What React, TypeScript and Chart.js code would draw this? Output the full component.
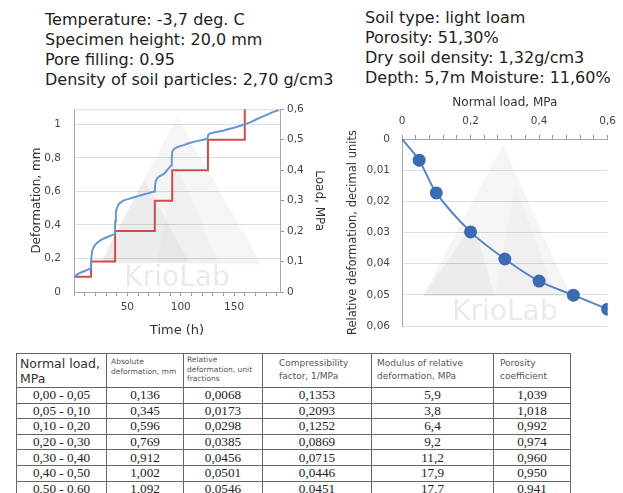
import React, { useEffect, useRef } from 'react';
import { Chart, registerables } from 'chart.js';

Chart.register(...registerables);

// ---------- Data: consolidation test (left chart) ----------
const timeH = [
  0, 3, 6, 10, 14, 15.8, 16.2, 17, 19, 21, 25, 30, 35, 38.3, 38.6, 39.2, 40.5, 42, 46, 52, 58, 65, 70, 75,
  75.8, 76.5, 78, 80, 83, 85, 87, 89, 91, 91.6, 92.2, 94, 97, 102, 108, 115, 120, 125, 125.6, 127, 132,
  139.5, 145, 150, 158, 165, 170.7, 176, 181, 186.3, 192,
];
const deformationMm = [
  0.088, 0.105, 0.115, 0.125, 0.136, 0.14, 0.2, 0.245, 0.275, 0.29, 0.31, 0.325, 0.338, 0.347, 0.42, 0.48,
  0.505, 0.525, 0.545, 0.557, 0.568, 0.582, 0.59, 0.6, 0.62, 0.66, 0.68, 0.69, 0.7, 0.71, 0.725, 0.74, 0.755,
  0.8, 0.84, 0.855, 0.865, 0.875, 0.889, 0.9, 0.907, 0.914, 0.935, 0.945, 0.953, 0.962, 0.972, 0.98, 0.996,
  1.012, 1.029, 1.045, 1.058, 1.073, 1.086,
];
const loadStepTimeH = [0, 16, 38.5, 75.7, 92, 125.5, 160];
const loadStepMPa = [0.05, 0.1, 0.2, 0.3, 0.4, 0.5, 0.6];

// ---------- Data: compression curve (right chart) ----------
const normalLoadMPa = [0, 0.05, 0.1, 0.2, 0.3, 0.4, 0.5, 0.6];
const relativeDeformation = [0, 0.0068, 0.0173, 0.0298, 0.0385, 0.0456, 0.0501, 0.0546];

// ---------- Header texts ----------
const leftInfo = [
  'Temperature: -3,7 deg. C',
  'Specimen height: 20,0 mm',
  'Pore filling: 0.95',
  'Density of soil particles: 2,70 g/cm3',
];
const rightInfo = [
  'Soil type: light loam',
  'Porosity: 51,30%',
  'Dry soil density: 1,32g/cm3',
  'Depth: 5,7m Moisture: 11,60%',
];

// ---------- Table ----------
const loadRanges = ['0,00 - 0,05', '0,05 - 0,10', '0,10 - 0,20', '0,20 - 0,30', '0,30 - 0,40', '0,40 - 0,50', '0,50 - 0,60'];
const absoluteDeformation = ['0,136', '0,345', '0,596', '0,769', '0,912', '1,002', '1,092'];
const relativeDeformationText = ['0,0068', '0,0173', '0,0298', '0,0385', '0,0456', '0,0501', '0,0546'];
const compressibilityFactor = ['0,1353', '0,2093', '0,1252', '0,0869', '0,0715', '0,0446', '0,0451'];
const modulusOfDeformation = ['5,9', '3,8', '6,4', '9,2', '11,2', '17,9', '17,7'];
const porosityCoefficient = ['1,039', '1,018', '0,992', '0,974', '0,960', '0,950', '0,941'];

const FONT = "'DejaVu Sans', Verdana, sans-serif";
Chart.defaults.font.family = FONT;
Chart.defaults.color = '#444';

const fmt = (v: number) => {
  const r = Math.round(v * 1000) / 1000;
  return r === 0 ? '0' : String(r).replace('.', ',');
};

const watermark = {
  id: 'krioWatermark',
  beforeDatasetsDraw(chart: any, _args: any, opts: any) {
    const { ctx, chartArea: a } = chart;
    const w = a.right - a.left;
    const h = a.bottom - a.top;
    const P = (fx: number, fy: number) => [a.left + fx * w, a.top + fy * h];
    ctx.save();
    const tri = (pts: number[][], color: string) => {
      ctx.beginPath();
      pts.forEach(([fx, fy], i) => {
        const [x, y] = P(fx, fy);
        if (i === 0) ctx.moveTo(x, y);
        else ctx.lineTo(x, y);
      });
      ctx.closePath();
      ctx.fillStyle = color;
      ctx.fill();
    };
    for (const t of opts.tris) tri(t.pts, t.color);
    ctx.font = `${opts.size}px ${FONT}`;
    ctx.fillStyle = 'rgba(0,0,0,0.085)';
    ctx.textAlign = 'center';
    ctx.textBaseline = 'middle';
    const [tx, ty] = P(opts.tx, opts.ty);
    ctx.fillText('KrioLab', tx, ty);
    if (opts.topLine) {
      ctx.strokeStyle = '#d8d8d8';
      ctx.lineWidth = 1;
      ctx.beginPath();
      ctx.moveTo(a.left, a.top + 0.5);
      ctx.lineTo(a.right, a.top + 0.5);
      ctx.stroke();
    }
    ctx.restore();
  },
};

function LeftChart() {
  const ref = useRef<HTMLCanvasElement>(null);
  useEffect(() => {
    const chart = new Chart(ref.current!, {
      type: 'line',
      data: {
        datasets: [
          {
            label: 'Deformation',
            data: timeH.map((t, i) => ({ x: t, y: deformationMm[i] })),
            borderColor: '#6696d0',
            borderWidth: 2,
            pointRadius: 0,
            tension: 0,
            yAxisID: 'y',
          },
          {
            label: 'Load',
            data: loadStepTimeH.map((t, i) => ({ x: t, y: loadStepMPa[i] })),
            borderColor: '#d24b4b',
            borderWidth: 2,
            pointRadius: 0,
            stepped: 'before',
            yAxisID: 'yLoad',
          },
        ],
      },
      options: {
        animation: false,
        responsive: false,
        devicePixelRatio: 1,
        layout: { padding: { left: 26, right: 10, top: 13, bottom: 8 } },
        plugins: {
          legend: { display: false },
          tooltip: { enabled: false },
          krioWatermark: {
            tris: [
              { pts: [[0.5, 0.04], [0.13, 0.84], [0.91, 0.85]], color: 'rgba(0,0,0,0.04)' },
              { pts: [[0.34, 0.38], [0.13, 0.84], [0.56, 0.84]], color: 'rgba(0,0,0,0.04)' },
              { pts: [[0.5, 0.3], [0.4, 0.84], [0.7, 0.84]], color: 'rgba(0,0,0,0.025)' },
            ],
            size: 28,
            tx: 0.5,
            ty: 0.93,
            topLine: true,
          },
        } as any,
        scales: {
          x: {
            type: 'linear',
            min: 0,
            max: 193,
            afterFit: (s: any) => { s.height = 50; },
            ticks: {
              stepSize: 10,
              autoSkip: false,
              maxRotation: 0,
              includeBounds: false,
              padding: 5,
              font: { size: 10.5 },
              callback: (v: any) => (v > 0 && v % 50 === 0 ? String(v) : ''),
            },
            grid: { drawOnChartArea: false, tickLength: 4, color: '#999' },
            border: { color: '#aaa' },
            title: { display: true, text: 'Time (h)', font: { size: 13 }, color: '#333', padding: 4 },
          },
          y: {
            type: 'linear',
            position: 'left',
            min: 0,
            max: 1.09,
            afterFit: (s: any) => { s.width = 48; },
            ticks: {
              stepSize: 0.2,
              includeBounds: false,
              padding: 13,
              font: { size: 10.5 },
              callback: (v: any) => fmt(v),
            },
            grid: { color: '#dedede', drawTicks: false },
            border: { color: '#aaa' },
            title: { display: true, text: 'Deformation, mm', font: { size: 12 }, color: '#333', padding: 4 },
          },
          yLoad: {
            type: 'linear',
            position: 'right',
            min: 0,
            max: 0.6,
            afterFit: (s: any) => { s.width = 50; },
            ticks: {
              stepSize: 0.1,
              padding: 3,
              font: { size: 10.5 },
              callback: (v: any) => fmt(v),
            },
            grid: { drawOnChartArea: false, tickLength: 4, color: '#999' },
            border: { color: '#aaa' },
            title: { display: true, text: 'Load, MPa', font: { size: 12 }, color: '#333', padding: 4 },
          },
        },
      },
      plugins: [watermark],
    } as any);
    return () => chart.destroy();
  }, []);
  return (
    <canvas
      ref={ref}
      width={340}
      height={260}
      style={{ position: 'absolute', left: 0, top: 90, width: 340, height: 260 }}
    />
  );
}

function RightChart() {
  const ref = useRef<HTMLCanvasElement>(null);
  useEffect(() => {
    const chart = new Chart(ref.current!, {
      type: 'line',
      data: {
        datasets: [
          {
            label: 'Relative deformation',
            data: normalLoadMPa.map((x, i) => ({ x, y: relativeDeformation[i] })),
            borderColor: '#5585c4',
            borderWidth: 2,
            tension: 0.3,
            pointRadius: [0, 5.5, 5.5, 5.5, 5.5, 5.5, 5.5, 5.5],
            pointBackgroundColor: '#3b6bb0',
            pointBorderColor: '#3b6bb0',
          },
        ],
      },
      options: {
        animation: false,
        responsive: false,
        devicePixelRatio: 1,
        layout: { padding: { left: 4, right: 10, top: 2, bottom: 24 } },
        plugins: {
          legend: { display: false },
          tooltip: { enabled: false },
          krioWatermark: {
            tris: [
              { pts: [[0.49, 0.03], [0.1, 0.84], [0.82, 0.84]], color: 'rgba(0,0,0,0.04)' },
              { pts: [[0.35, 0.45], [0.1, 0.84], [0.45, 0.84]], color: 'rgba(0,0,0,0.04)' },
              { pts: [[0.55, 0.25], [0.45, 0.84], [0.75, 0.84]], color: 'rgba(0,0,0,0.025)' },
            ],
            size: 28,
            tx: 0.5,
            ty: 0.93,
            topLine: false,
          },
        } as any,
        scales: {
          x: {
            type: 'linear',
            position: 'top',
            min: 0,
            max: 0.6,
            afterFit: (s: any) => { s.height = 47; },
            ticks: {
              stepSize: 0.04,
              autoSkip: false,
              maxRotation: 0,
              padding: 7,
              font: { size: 10.5 },
              callback: (v: any) => (Math.round(v * 100) % 20 === 0 ? fmt(v) : ''),
            },
            grid: { drawOnChartArea: false, tickLength: 4, color: '#999' },
            border: { color: '#aaa' },
            title: { display: true, text: 'Normal load, MPa', font: { size: 12 }, color: '#333', padding: 4 },
          },
          y: {
            type: 'linear',
            reverse: true,
            min: 0,
            max: 0.06,
            afterFit: (s: any) => { s.width = 58; },
            ticks: {
              stepSize: 0.01,
              padding: 12,
              font: { size: 10.5 },
              callback: (v: any) => fmt(v),
            },
            grid: { color: '#dedede', drawTicks: false },
            border: { color: '#aaa' },
            title: {
              display: true,
              text: 'Relative deformation, decimal units',
              font: { size: 11.5 },
              color: '#333',
              padding: 2,
            },
          },
        },
      },
      plugins: [watermark],
    } as any);
    return () => chart.destroy();
  }, []);
  return (
    <canvas
      ref={ref}
      width={283}
      height={260}
      style={{ position: 'absolute', left: 340, top: 90, width: 283, height: 260 }}
    />
  );
}

const border = '1px solid #666';
const colWidths = [90, 77, 79, 109, 122, 77];

function DataTable() {
  const smallHead = (lines: string[], size: number, lh: number, pt: number, pl: number) => (
    <td
      style={{
        border,
        verticalAlign: 'top',
        padding: 0,
        paddingTop: pt,
        paddingLeft: pl,
        fontFamily: FONT,
        fontSize: size,
        lineHeight: `${lh}px`,
        color: '#555',
        overflow: 'hidden',
        whiteSpace: 'nowrap',
      }}
    >
      {lines.map((l, i) => (
        <div key={i}>{l}</div>
      ))}
    </td>
  );
  const columns = [loadRanges, absoluteDeformation, relativeDeformationText, compressibilityFactor, modulusOfDeformation, porosityCoefficient];
  return (
    <table
      style={{
        position: 'absolute',
        left: 16,
        top: 353,
        borderCollapse: 'collapse',
        tableLayout: 'fixed',
        width: colWidths.reduce((a, b) => a + b, 0),
      }}
    >
      <colgroup>
        {colWidths.map((w, i) => (
          <col key={i} style={{ width: w }} />
        ))}
      </colgroup>
      <tbody>
        <tr style={{ height: 33 }}>
          <td
            style={{
              border,
              verticalAlign: 'top',
              padding: 0,
              paddingTop: 2,
              paddingLeft: 3,
              fontFamily: FONT,
              fontSize: 12.5,
              lineHeight: '15px',
              color: '#333',
              overflow: 'hidden',
              height: 31,
            }}
          >
            <div>Normal load,</div>
            <div>MPa</div>
          </td>
          {smallHead(['Absolute', 'deformation, mm'], 7.5, 10, 3, 4)}
          {smallHead(['Relative', 'deformation, unit', 'fractions'], 7.5, 9.6, 1, 3)}
          {smallHead(['Compressibility', 'factor, 1/MPa'], 9, 13.3, 3, 16)}
          {smallHead(['Modulus of relative', 'deformation, MPa'], 9, 13.3, 3, 5)}
          {smallHead(['Porosity', 'coefficient'], 9, 13.3, 3, 6)}
        </tr>
        {loadRanges.map((_, r) => (
          <tr key={r} style={{ height: 15.6 }}>
            {columns.map((col, c) => (
              <td
                key={c}
                style={{
                  border,
                  padding: 0,
                  textAlign: 'center',
                  fontFamily: "'Liberation Serif', 'Times New Roman', serif",
                  fontSize: 13.2,
                  lineHeight: '14px',
                  color: '#222',
                }}
              >
                {col[r]}
              </td>
            ))}
          </tr>
        ))}
      </tbody>
    </table>
  );
}

export default function App() {
  const info = (lines: string[], left: number, top: number) => (
    <div
      style={{
        position: 'absolute',
        left,
        top,
        fontFamily: FONT,
        fontSize: 16,
        lineHeight: '20px',
        color: '#222',
        whiteSpace: 'nowrap',
      }}
    >
      {lines.map((l, i) => (
        <div key={i}>{l}</div>
      ))}
    </div>
  );
  return (
    <div
      style={{
        position: 'absolute',
        left: 0,
        top: 0,
        width: 623,
        height: 493,
        background: '#fff',
        overflow: 'hidden',
      }}
    >
      {info(leftInfo, 45, 10)}
      {info(rightInfo, 365, 8)}
      <LeftChart />
      <RightChart />
      <DataTable />
    </div>
  );
}
